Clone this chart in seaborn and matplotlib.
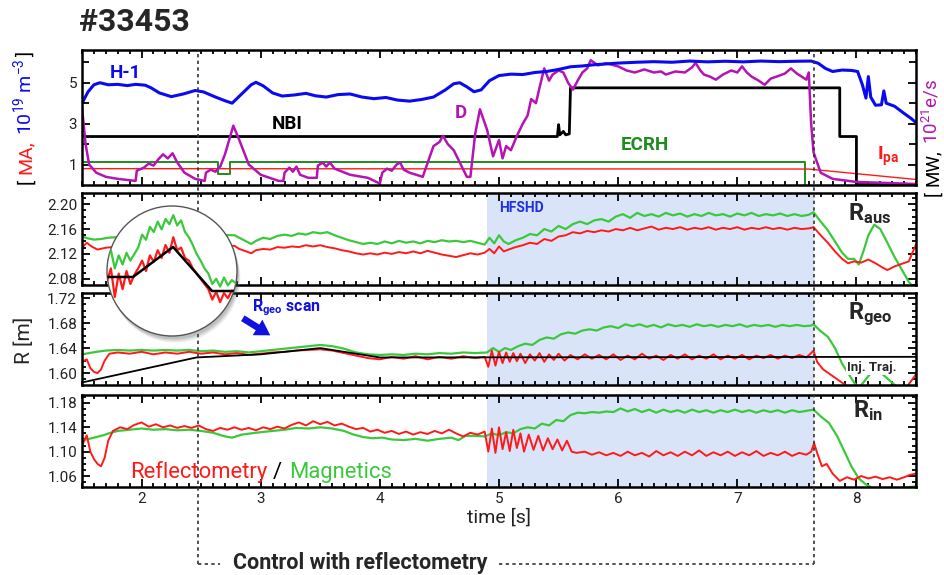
import matplotlib
matplotlib.use("Agg")
import numpy as np
import matplotlib.pyplot as plt
import seaborn as sns
import matplotlib.transforms as mtransforms
from matplotlib.ticker import MultipleLocator, FixedLocator, FormatStrFormatter
from matplotlib.patches import Circle
from matplotlib.lines import Line2D

# ---------------- data (time [s], value) ----------------
shot = "#33453"
h1_density = [(1.50,4.00),(1.55,4.55),(1.60,4.90),(1.65,5.00),(1.72,4.90),(1.80,4.92),(1.88,4.86),(1.95,4.92),
    (2.03,4.88),(2.08,4.75),(2.15,4.50),(2.25,4.32),(2.35,4.45),(2.45,4.62),(2.52,4.55),(2.62,4.30),(2.70,4.12),
    (2.76,4.00),(2.84,4.45),(2.92,4.90),(2.96,5.02),(3.02,4.85),(3.10,4.50),(3.18,4.35),(3.28,4.40),(3.38,4.48),
    (3.46,4.36),(3.55,4.30),(3.65,4.42),(3.75,4.45),(3.85,4.30),(3.95,4.22),(4.05,4.28),(4.15,4.15),(4.25,4.10),
    (4.35,4.18),(4.45,4.30),(4.55,4.65),(4.62,4.95),(4.67,5.00),(4.73,4.80),(4.79,4.56),(4.85,4.65),(4.92,5.10),
    (5.00,5.35),(5.10,5.42),(5.20,5.40),(5.30,5.50),(5.40,5.55),(5.50,5.65),(5.60,5.78),(5.70,5.82),(5.80,5.88),
    (5.90,5.92),(6.00,5.96),(6.15,6.00),(6.30,6.03),(6.45,6.00),(6.60,6.06),(6.75,6.02),(6.90,6.05),(7.05,6.02),
    (7.20,6.06),(7.35,6.03),(7.50,6.05),(7.62,6.06),(7.68,5.95),(7.74,5.70),(7.80,5.55),(7.88,5.62),(7.96,5.60),
    (8.01,5.55),(8.05,4.90),(8.08,4.25),(8.10,5.30),(8.12,4.30),(8.16,3.90),(8.21,3.92),(8.23,4.60),(8.25,4.00),
    (8.32,3.85),(8.40,3.50),(8.46,3.25),(8.50,3.05)]
nbi_power = [(1.50,2.37),(5.49,2.37),(5.50,2.95),(5.51,2.45),(5.54,2.62),(5.56,2.45),(5.59,2.50),(5.60,4.75),
    (7.86,4.75),(7.86,2.37),(8.00,2.37),(8.00,0.02),(8.50,0.02)]
ecrh_power = [(1.50,1.14),(2.64,1.14),(2.64,0.55),(2.74,0.55),(2.74,1.14),(7.57,1.14),(7.57,0.0)]
plasma_current = [(1.50,0.80),(7.60,0.78),(8.50,0.27)]
d_puff = [(1.50,3.80),(1.53,2.00),(1.56,1.00),(1.62,0.60),(1.70,0.40),(1.80,0.30),(1.95,0.20),(1.96,0.70),
    (2.02,0.85),(2.06,1.05),(2.10,0.95),(2.14,1.25),(2.18,1.50),(2.22,1.30),(2.26,1.55),(2.30,1.10),(2.36,0.60),
    (2.45,0.30),(2.53,0.20),(2.54,0.60),(2.58,0.75),(2.62,0.65),(2.66,0.90),(2.70,1.50),(2.74,2.30),(2.77,2.90),
    (2.82,2.20),(2.90,1.00),(3.00,0.50),(3.15,0.20),(3.19,0.20),(3.20,0.60),(3.24,0.85),(3.27,0.65),(3.30,0.90),
    (3.33,0.50),(3.40,0.35),(3.47,0.35),(3.48,0.95),(3.52,1.10),(3.55,0.90),(3.58,1.10),(3.62,0.80),(3.75,0.50),
    (3.90,0.35),(4.00,0.07),(4.02,0.60),(4.06,0.80),(4.10,0.70),(4.14,1.00),(4.17,1.10),(4.20,0.75),(4.25,0.60),
    (4.36,0.40),(4.45,1.90),(4.50,2.10),(4.53,2.40),(4.57,2.00),(4.62,1.70),(4.73,0.40),(4.76,0.40),(4.80,2.50),
    (4.84,3.70),(4.90,2.70),(4.95,1.40),(5.00,2.20),(5.03,1.30),(5.06,1.90),(5.10,1.70),(5.15,2.40),(5.20,3.00),
    (5.24,3.40),(5.27,4.20),(5.31,4.00),(5.35,5.00),(5.38,5.70),(5.42,5.10),(5.45,5.40),(5.50,5.60),(5.54,5.50),
    (5.58,5.00),(5.62,4.66),(5.66,5.10),(5.70,5.50),(5.74,5.70),(5.77,6.10),(5.83,5.85),(5.90,5.95),(6.00,5.80),
    (6.07,5.60),(6.14,5.50),(6.22,5.65),(6.30,5.50),(6.36,5.55),(6.40,5.40),(6.48,5.55),(6.56,5.50),(6.62,5.75),
    (6.65,5.97),(6.69,5.60),(6.72,5.40),(6.77,5.30),(6.82,5.15),(6.88,5.40),(6.95,5.60),(7.00,5.50),(7.04,5.80),
    (7.08,5.50),(7.12,5.30),(7.18,5.10),(7.23,4.90),(7.28,5.20),(7.33,5.30),(7.40,5.45),(7.45,5.70),(7.50,5.45),
    (7.54,5.30),(7.58,5.15),(7.60,5.50),(7.62,3.00),(7.64,1.60),(7.70,0.60),(7.80,0.30),(8.00,0.15),(8.50,0.05)]

raus_magnetics = [(1.50,2.148),(1.55,2.145),(1.60,2.143),(1.66,2.144),(1.72,2.146),(2.00,2.150),(2.40,2.152),
    (2.78,2.150),(2.82,2.146),(2.88,2.140),(2.92,2.136),(2.96,2.141),(3.02,2.146),(3.08,2.144),(3.14,2.149),
    (3.20,2.151),(3.26,2.149),(3.32,2.153),(3.38,2.151),(3.44,2.155),(3.50,2.153),(3.56,2.155),(3.62,2.150),
    (3.68,2.146),(3.74,2.142),(3.80,2.139),(3.86,2.136),(3.92,2.138),(3.98,2.136),(4.04,2.140),(4.10,2.137),
    (4.16,2.141),(4.22,2.138),(4.28,2.140),(4.34,2.137),(4.40,2.141),(4.46,2.139),(4.52,2.142),(4.58,2.140),
    (4.64,2.141),(4.70,2.139),(4.76,2.141),(4.82,2.138),(4.88,2.135),(4.92,2.146),(4.96,2.137),(5.00,2.150),
    (5.04,2.140),(5.08,2.136),(5.14,2.142),(5.20,2.146),(5.26,2.152),(5.32,2.150),(5.38,2.160),(5.44,2.156),
    (5.50,2.165),(5.56,2.160),(5.62,2.168),(5.68,2.172),(5.74,2.168),(5.80,2.174),(5.86,2.176),(5.92,2.172),
    (5.98,2.180),(6.04,2.184),(6.10,2.178),(6.16,2.186),(6.22,2.181),(6.28,2.184),(6.34,2.180),(6.40,2.186),
    (6.46,2.182),(6.52,2.185),(6.58,2.180),(6.64,2.184),(6.70,2.181),(6.76,2.186),(6.82,2.182),(6.88,2.184),
    (6.94,2.180),(7.00,2.185),(7.06,2.182),(7.12,2.186),(7.18,2.181),(7.24,2.184),(7.30,2.182),(7.36,2.185),
    (7.42,2.181),(7.48,2.184),(7.54,2.181),(7.60,2.183),(7.64,2.187),(7.70,2.172),(7.76,2.158),(7.82,2.140),
    (7.88,2.122),(7.93,2.112),(7.98,2.112),(8.02,2.103),(8.06,2.125),(8.10,2.150),(8.15,2.167),(8.20,2.160),
    (8.26,2.138),(8.32,2.115),(8.38,2.095),(8.44,2.075),(8.50,2.062)]
raus_reflectometry = [(1.50,2.130),(1.54,2.138),(1.58,2.132),(1.63,2.127),(1.70,2.130),(2.00,2.135),(2.40,2.135),
    (2.78,2.133),(2.82,2.128),(2.88,2.124),(2.92,2.121),(2.96,2.126),(3.02,2.128),(3.08,2.127),(3.14,2.131),
    (3.20,2.130),(3.26,2.132),(3.32,2.131),(3.38,2.134),(3.44,2.132),(3.50,2.134),(3.56,2.131),(3.62,2.129),
    (3.68,2.126),(3.74,2.124),(3.80,2.121),(3.86,2.119),(3.92,2.121),(3.98,2.119),(4.04,2.122),(4.10,2.120),
    (4.16,2.123),(4.22,2.121),(4.28,2.124),(4.34,2.121),(4.40,2.125),(4.46,2.122),(4.52,2.119),(4.58,2.117),
    (4.64,2.115),(4.70,2.118),(4.76,2.121),(4.82,2.119),(4.88,2.122),(4.92,2.128),(4.96,2.121),(5.00,2.132),
    (5.04,2.124),(5.08,2.127),(5.14,2.131),(5.20,2.134),(5.26,2.138),(5.32,2.136),(5.38,2.144),(5.44,2.141),
    (5.50,2.148),(5.56,2.150),(5.62,2.155),(5.68,2.153),(5.74,2.157),(5.80,2.155),(5.86,2.158),(5.92,2.156),
    (5.98,2.160),(6.04,2.158),(6.10,2.162),(6.16,2.158),(6.22,2.161),(6.28,2.164),(6.34,2.159),(6.40,2.162),
    (6.46,2.160),(6.52,2.163),(6.58,2.159),(6.64,2.162),(6.70,2.160),(6.76,2.163),(6.82,2.159),(6.88,2.162),
    (6.94,2.160),(7.00,2.163),(7.06,2.159),(7.12,2.162),(7.18,2.160),(7.24,2.163),(7.30,2.160),(7.36,2.162),
    (7.42,2.159),(7.48,2.162),(7.54,2.160),(7.60,2.161),(7.64,2.163),(7.70,2.150),(7.76,2.138),(7.82,2.124),
    (7.88,2.112),(7.93,2.105),(7.98,2.108),(8.04,2.106),(8.10,2.111),(8.16,2.105),(8.22,2.098),(8.26,2.094),
    (8.32,2.100),(8.38,2.104),(8.44,2.108),(8.47,2.122),(8.50,2.135)]

rgeo_trajectory = [(1.50,1.585),(2.46,1.625),(3.00,1.630),(3.50,1.640),(4.00,1.625),(8.50,1.626)]
rgeo_magnetics = [(1.50,1.630),(1.56,1.632),(1.62,1.634),(1.70,1.636),(1.80,1.637),(1.90,1.636),(2.00,1.637),
    (2.10,1.636),(2.20,1.637),(2.30,1.636),(2.40,1.637),(2.50,1.635),(2.60,1.636),(2.70,1.634),(2.80,1.635),
    (2.90,1.633),(3.00,1.635),(3.10,1.637),(3.20,1.639),(3.30,1.641),(3.40,1.643),(3.50,1.645),(3.60,1.643),
    (3.70,1.639),(3.80,1.633),(3.90,1.630),(4.00,1.629),(4.10,1.630),(4.20,1.629),(4.30,1.631),(4.40,1.630),
    (4.50,1.632),(4.60,1.631),(4.70,1.633),(4.80,1.632),(4.90,1.633),(4.95,1.640),(5.00,1.634),(5.05,1.640),
    (5.10,1.637),(5.16,1.643),(5.22,1.647),(5.28,1.645),(5.34,1.653),(5.40,1.657),(5.46,1.655),(5.52,1.662),
    (5.58,1.665),(5.64,1.663),(5.70,1.668),(5.76,1.670),(5.82,1.668),(5.88,1.673),(5.94,1.675),(6.00,1.672),
    (6.06,1.678),(6.12,1.675),(6.18,1.678),(6.24,1.674),(6.30,1.677),(6.36,1.673),(6.42,1.678),(6.48,1.675),
    (6.54,1.677),(6.60,1.674),(6.66,1.678),(6.72,1.675),(6.78,1.677),(6.84,1.674),(6.90,1.677),(6.96,1.675),
    (7.02,1.678),(7.08,1.674),(7.14,1.677),(7.20,1.675),(7.26,1.677),(7.32,1.674),(7.38,1.677),(7.44,1.675),
    (7.50,1.677),(7.56,1.675),(7.62,1.676),(7.64,1.678),(7.70,1.667),(7.76,1.658),(7.82,1.640),(7.88,1.615),
    (7.93,1.600),(7.98,1.585),(8.02,1.576),(8.07,1.588),(8.12,1.600),(8.16,1.603),(8.22,1.598),(8.28,1.588),
    (8.34,1.578),(8.40,1.570),(8.50,1.565)]
rgeo_reflectometry = [(1.50,1.618),(1.54,1.622),(1.57,1.608),(1.60,1.602),(1.63,1.600),(1.66,1.606),(1.69,1.620),
    (1.73,1.631),(1.80,1.633),(1.90,1.631),(2.00,1.634),(2.10,1.630),(2.20,1.633),(2.30,1.631),(2.40,1.634),
    (2.50,1.631),(2.60,1.633),(2.70,1.630),(2.80,1.632),(2.90,1.629),(3.00,1.631),(3.10,1.633),(3.20,1.634),
    (3.30,1.636),(3.40,1.637),(3.50,1.638),(3.60,1.636),(3.70,1.632),(3.80,1.628),(3.90,1.624),(4.00,1.622),
    (4.10,1.626),(4.20,1.623),(4.30,1.627),(4.40,1.622),(4.50,1.626),(4.60,1.623),(4.70,1.627),(4.80,1.624),
    (4.88,1.626),(4.91,1.610),(4.94,1.636),(4.97,1.612),(5.00,1.634),(5.03,1.616),(5.06,1.633),(5.09,1.618),
    (5.12,1.632),(5.15,1.619),(5.18,1.631),(5.22,1.616),(5.26,1.630),(5.30,1.620),(5.34,1.632),(5.38,1.618),
    (5.42,1.630),(5.46,1.621),(5.50,1.631),(5.55,1.620),(5.60,1.629),(5.66,1.622),(5.72,1.630),(5.78,1.623),
    (5.84,1.629),(5.90,1.622),(5.96,1.630),(6.02,1.621),(6.08,1.628),(6.14,1.622),(6.20,1.631),(6.26,1.623),
    (6.32,1.628),(6.38,1.621),(6.44,1.629),(6.50,1.623),(6.56,1.630),(6.62,1.622),(6.68,1.628),(6.74,1.623),
    (6.80,1.630),(6.86,1.622),(6.92,1.628),(6.98,1.623),(7.04,1.629),(7.10,1.622),(7.16,1.628),(7.22,1.624),
    (7.28,1.629),(7.34,1.623),(7.40,1.628),(7.46,1.624),(7.52,1.629),(7.58,1.625),(7.62,1.632),(7.64,1.636),
    (7.67,1.618),(7.72,1.606),(7.78,1.598),(7.84,1.590),(7.90,1.582),(7.95,1.576),(8.00,1.572),(8.40,1.572),
    (8.45,1.585),(8.50,1.598)]

rin_reflectometry = [(1.50,1.110),(1.54,1.127),(1.57,1.100),(1.60,1.088),(1.63,1.080),(1.66,1.076),(1.69,1.090),
    (1.72,1.118),(1.76,1.134),(1.82,1.140),(1.88,1.137),(1.94,1.144),(2.00,1.148),(2.06,1.141),(2.12,1.145),
    (2.18,1.140),(2.24,1.143),(2.30,1.139),(2.36,1.142),(2.42,1.139),(2.48,1.143),(2.54,1.137),(2.60,1.134),
    (2.66,1.139),(2.72,1.136),(2.78,1.140),(2.84,1.136),(2.90,1.139),(2.96,1.135),(3.02,1.140),(3.08,1.137),
    (3.14,1.141),(3.20,1.138),(3.26,1.144),(3.32,1.148),(3.38,1.143),(3.44,1.150),(3.50,1.145),(3.56,1.149),
    (3.62,1.143),(3.68,1.146),(3.74,1.141),(3.80,1.137),(3.86,1.139),(3.92,1.133),(3.98,1.136),(4.04,1.131),
    (4.10,1.134),(4.16,1.129),(4.22,1.133),(4.28,1.128),(4.34,1.132),(4.40,1.129),(4.46,1.134),(4.52,1.130),
    (4.58,1.136),(4.64,1.130),(4.70,1.125),(4.76,1.131),(4.82,1.128),(4.88,1.133),(4.91,1.100),(4.94,1.138),
    (4.97,1.098),(5.00,1.140),(5.03,1.104),(5.06,1.132),(5.09,1.101),(5.12,1.136),(5.15,1.106),(5.18,1.130),
    (5.21,1.100),(5.25,1.128),(5.29,1.103),(5.33,1.126),(5.37,1.102),(5.41,1.122),(5.45,1.104),(5.49,1.120),
    (5.53,1.102),(5.57,1.118),(5.61,1.100),(5.65,1.098),(5.72,1.100),(5.78,1.095),(5.84,1.099),(5.90,1.094),
    (5.96,1.098),(6.02,1.093),(6.08,1.100),(6.14,1.094),(6.20,1.098),(6.26,1.092),(6.32,1.101),(6.38,1.094),
    (6.44,1.099),(6.50,1.093),(6.56,1.100),(6.62,1.094),(6.68,1.102),(6.74,1.093),(6.80,1.099),(6.86,1.094),
    (6.92,1.100),(6.98,1.093),(7.04,1.099),(7.10,1.094),(7.16,1.101),(7.22,1.093),(7.28,1.098),(7.34,1.094),
    (7.40,1.100),(7.46,1.093),(7.52,1.098),(7.58,1.095),(7.62,1.100),(7.645,1.114),(7.67,1.098),(7.71,1.076),
    (7.75,1.080),(7.80,1.064),(7.86,1.052),(7.92,1.058),(7.98,1.054),(8.04,1.060),(8.10,1.056),(8.16,1.059),
    (8.22,1.055),(8.28,1.058),(8.34,1.054),(8.40,1.058),(8.45,1.062),(8.50,1.064)]
rin_magnetics = [(1.50,1.119),(1.56,1.121),(1.62,1.124),(1.68,1.127),(1.74,1.131),(1.80,1.134),(1.90,1.136),
    (2.00,1.138),(2.10,1.136),(2.20,1.137),(2.30,1.135),(2.40,1.136),(2.50,1.134),(2.60,1.131),(2.70,1.125),
    (2.76,1.123),(2.84,1.128),(2.92,1.130),(3.00,1.132),(3.10,1.134),(3.20,1.136),(3.30,1.139),(3.40,1.138),
    (3.50,1.140),(3.60,1.138),(3.70,1.134),(3.78,1.128),(3.86,1.124),(3.94,1.122),(4.02,1.123),(4.10,1.120),
    (4.20,1.119),(4.30,1.121),(4.40,1.118),(4.50,1.121),(4.60,1.123),(4.66,1.119),(4.72,1.126),(4.80,1.126),
    (4.88,1.125),(4.94,1.130),(5.00,1.127),(5.06,1.132),(5.12,1.130),(5.18,1.137),(5.24,1.140),(5.30,1.138),
    (5.36,1.146),(5.42,1.143),(5.48,1.152),(5.54,1.150),(5.60,1.160),(5.66,1.164),(5.72,1.163),(5.78,1.165),
    (5.84,1.164),(5.90,1.166),(5.96,1.165),(6.02,1.171),(6.08,1.166),(6.14,1.170),(6.20,1.165),(6.26,1.169),
    (6.32,1.164),(6.38,1.169),(6.44,1.165),(6.50,1.168),(6.56,1.164),(6.62,1.169),(6.68,1.165),(6.74,1.168),
    (6.80,1.164),(6.86,1.168),(6.92,1.165),(6.98,1.169),(7.04,1.165),(7.10,1.168),(7.16,1.164),(7.22,1.168),
    (7.28,1.165),(7.34,1.168),(7.40,1.164),(7.46,1.168),(7.52,1.165),(7.58,1.167),(7.64,1.169),(7.70,1.158),
    (7.77,1.147),(7.84,1.125),(7.90,1.100),(7.96,1.075),(8.02,1.056),(8.08,1.046),(8.14,1.040),(8.30,1.039),
    (8.50,1.043)]

# zoomed inset (normalised coordinates inside the magnifier)
inset_x = [0.00,0.03,0.06,0.09,0.12,0.15,0.18,0.21,0.24,0.27,0.30,0.33,0.36,0.39,0.42,0.45,0.48,
           0.51,0.54,0.57,0.60,0.63,0.66,0.69,0.72,0.75,0.78,0.81,0.84,0.87,0.90,0.93,0.96,1.00]
inset_magnetics = [0.60,0.66,0.52,0.62,0.55,0.64,0.58,0.63,0.68,0.78,0.74,0.84,0.80,0.88,0.82,0.90,0.86,
                   0.93,0.85,0.89,0.80,0.76,0.70,0.63,0.58,0.52,0.48,0.40,0.44,0.38,0.45,0.39,0.43,0.40]
inset_reflectometry = [0.42,0.52,0.30,0.48,0.36,0.50,0.40,0.47,0.52,0.58,0.50,0.62,0.57,0.66,0.60,0.70,0.64,
                       0.76,0.66,0.68,0.60,0.58,0.52,0.48,0.44,0.40,0.36,0.28,0.34,0.26,0.33,0.29,0.35,0.33]
inset_trajectory = [(0.00,0.454),(0.20,0.454),(0.508,0.685),(0.808,0.346),(1.00,0.346)]

control_window = [2.47, 7.64]
hfshd_window = [4.90, 7.64]

# ---------------- styling ----------------
sns.set_theme(style="ticks")
plt.rcParams["font.family"] = ["Roboto", "DejaVu Sans"]
plt.rcParams["mathtext.fontset"] = "custom"
plt.rcParams["mathtext.rm"] = "Roboto"
plt.rcParams["mathtext.bf"] = "Roboto:bold"
plt.rcParams["mathtext.it"] = "Roboto:italic"

BLUE = "#0A0AF2"; MAG = "#B414B4"; ECRH_G = "#1E8C1E"; RED = "#FF1A1A"; GRN = "#3CC83C"
SHADE = "#DAE4F9"

W, H = 945, 575
fig = plt.figure(figsize=(9.45, 5.75), dpi=100)
L0, WD = 82 / W, 834 / W
def pos(top, bot):
    return [L0, 1 - bot / H, WD, (bot - top) / H]
ax1 = fig.add_axes(pos(50, 185))
ax2 = fig.add_axes(pos(193, 285))
ax3 = fig.add_axes(pos(293, 385))
ax4 = fig.add_axes(pos(395, 487))

def draw(ax, data, color, lw, z=2):
    a = np.array(data, dtype=float)
    sns.lineplot(x=a[:, 0], y=a[:, 1], ax=ax, color=color, lw=lw, estimator=None,
                 sort=False, legend=False, zorder=z)

for ax in (ax1, ax2, ax3, ax4):
    ax.set_xlim(1.5, 8.5)
    for s in ax.spines.values():
        s.set_linewidth(1.8); s.set_color("black")
    ax.tick_params(which="both", direction="in", top=True, right=True, width=1.3,
                   color="black", labelcolor="#222", labelsize=11)
    ax.tick_params(which="major", length=6)
    ax.tick_params(which="minor", length=3)
    ax.xaxis.set_major_locator(MultipleLocator(1))
    ax.xaxis.set_minor_locator(MultipleLocator(0.1))
    if ax is not ax4:
        ax.tick_params(labelbottom=False)
for ax in (ax2, ax3, ax4):
    ax.axvspan(hfshd_window[0], hfshd_window[1], color=SHADE, lw=0, zorder=0)

# panel 1
draw(ax1, ecrh_power, ECRH_G, 1.4)
draw(ax1, plasma_current, RED, 1.0)
draw(ax1, nbi_power, "black", 2.0)
draw(ax1, d_puff, MAG, 1.8)
draw(ax1, h1_density, BLUE, 2.2)
ax1.set_ylim(0, 6.6)
ax1.yaxis.set_major_locator(FixedLocator([1, 3, 5]))
ax1.yaxis.set_minor_locator(FixedLocator([2, 4, 6]))
ax1.yaxis.set_major_formatter(FormatStrFormatter("%d"))
ax1.tick_params(axis="y", which="minor", length=5)
ax1.text(1.73, 5.50, "H-1", color=BLUE, fontsize=13.5, fontweight="bold", va="center")
ax1.text(3.09, 3.00, "NBI", color="black", fontsize=13.5, fontweight="bold", va="center")
ax1.text(4.63, 3.50, "D", color=MAG, fontsize=13.5, fontweight="bold", va="center")
ax1.text(6.02, 1.95, "ECRH", color=ECRH_G, fontsize=13.5, fontweight="bold", va="center")
ax1.text(8.17, 1.40, r"$\mathbf{I}_{\mathbf{pa}}$", color=RED, fontsize=14, va="center")

# panel 2
draw(ax2, raus_magnetics, GRN, 1.6)
draw(ax2, raus_reflectometry, RED, 1.4)
ax2.set_ylim(2.070, 2.218)
ax2.yaxis.set_major_locator(FixedLocator([2.08, 2.12, 2.16, 2.20]))
ax2.yaxis.set_minor_locator(MultipleLocator(0.01))
ax2.yaxis.set_major_formatter(FormatStrFormatter("%.2f"))
ax2.text(5.0, 2.194, "HFSHD", color="#2030E0", fontsize=10, fontweight="bold", va="center")
ax2.text(0.918, 0.78, r"$\mathbf{R}_{\mathbf{aus}}$", transform=ax2.transAxes, fontsize=17, va="center")

# panel 3
draw(ax3, rgeo_magnetics, GRN, 1.6)
draw(ax3, rgeo_reflectometry, RED, 1.4)
draw(ax3, rgeo_trajectory, "black", 1.3, z=3)
ax3.set_ylim(1.581, 1.728)
ax3.yaxis.set_major_locator(FixedLocator([1.60, 1.64, 1.68, 1.72]))
ax3.yaxis.set_minor_locator(MultipleLocator(0.01))
ax3.yaxis.set_major_formatter(FormatStrFormatter("%.2f"))
ax3.text(0.918, 0.77, r"$\mathbf{R}_{\mathbf{geo}}$", transform=ax3.transAxes, fontsize=17, va="center")
ax3.text(0.917, 0.185, "Inj. Traj.", transform=ax3.transAxes, fontsize=9.5, fontweight="bold", va="center",
         bbox=dict(facecolor="white", edgecolor="none", pad=0.5), zorder=4)
ax3.text(2.93, 1.705, r"$\mathbf{R}_{\mathbf{geo}}$ scan", color="#1010E0", fontsize=11.5,
         fontweight="bold", va="center")
ax3.annotate("", xy=(3.10, 1.658), xytext=(2.83, 1.690),
             arrowprops=dict(arrowstyle="simple,head_width=1.1,head_length=0.9,tail_width=0.4",
                             color="#1010E0", lw=0, mutation_scale=12))

# panel 4
draw(ax4, rin_magnetics, GRN, 1.6)
draw(ax4, rin_reflectometry, RED, 1.4)
ax4.set_ylim(1.042, 1.193)
ax4.yaxis.set_major_locator(FixedLocator([1.06, 1.10, 1.14, 1.18]))
ax4.yaxis.set_minor_locator(MultipleLocator(0.01))
ax4.yaxis.set_major_formatter(FormatStrFormatter("%.2f"))
ax4.text(0.925, 0.83, r"$\mathbf{R}_{\mathbf{in}}$", transform=ax4.transAxes, fontsize=17, va="center")
ax4.set_xlabel("time [s]", fontsize=14, labelpad=2, color="#222")

# control window dotted bracket
trans = mtransforms.blended_transform_factory(ax4.transData, fig.transFigure)
ybr = 1 - 564 / H
for tv in control_window:
    fig.add_artist(Line2D([tv, tv], [ybr, 1 - 50 / H], transform=trans, ls=(0, (2, 2)), lw=1.2,
                          color="#333333", zorder=4))
fig.add_artist(Line2D([control_window[0], 2.66], [ybr, ybr], transform=trans, ls=(0, (2, 2)),
                      lw=1.2, color="#333333", zorder=4))
fig.add_artist(Line2D([5.00, control_window[1]], [ybr, ybr], transform=trans, ls=(0, (2, 2)),
                      lw=1.2, color="#333333", zorder=4))
fig.text(360 / W, ybr + 0.001, "Control with reflectometry", fontsize=15.5, fontweight="bold",
         ha="center", va="center")

# title / labels
fig.text(79 / W, 1 - 22 / H, shot, fontsize=23, fontweight="bold", ha="left", va="center")
fig.text(24 / W, 1 - 340 / H, "R [m]", fontsize=15, rotation=90, ha="center", va="center")

renderer = fig.canvas.get_renderer()
def multicolor(x_px, y_px, pieces, rotation=0, size=14):
    for s, c, gap in pieces:
        t = fig.text(x_px / W, y_px / H, s, color=c, fontsize=size, rotation=rotation,
                     rotation_mode="anchor", ha="left", va="baseline")
        bb = t.get_window_extent(renderer)
        if rotation == 0:
            x_px += bb.width + gap
        else:
            y_px += bb.height + gap

multicolor(31, H - 184, [("[", "black", 5), ("MA,", RED, 5),
                         (r"10$^{19}$ m$^{-3}$", BLUE, 3), ("]", "black", 0)], rotation=90, size=14)
multicolor(938, H - 196, [("[", "black", 5), ("MW,", "black", 5),
                          (r"10$^{21}$e/s", MAG, 0)], rotation=90, size=13.5)
multicolor(130, H - 478, [("Reflectometry", RED, 6), ("/", "black", 7), ("Magnetics", GRN, 0)],
           rotation=0, size=15.8)

# magnifier inset
ax_in = fig.add_axes([107 / W, 1 - 336 / H, 130 / W, 130 / H], zorder=6)
ax_in.set_xlim(0, 1); ax_in.set_ylim(0, 1); ax_in.axis("off")
for dx, a in [(0.05, 0.10), (0.038, 0.14), (0.026, 0.18)]:
    ax_in.add_patch(Circle((0.5 + 0.5 * dx, 0.5 - dx), 0.5, transform=ax_in.transAxes,
                           facecolor="#555555", edgecolor="none", alpha=a, clip_on=False, zorder=0))
circ = Circle((0.5, 0.5), 0.5, transform=ax_in.transAxes, facecolor="white", edgecolor="#555555",
              lw=1.0, clip_on=False, zorder=1)
ax_in.add_patch(circ)
sns.lineplot(x=inset_x, y=inset_magnetics, ax=ax_in, color=GRN, lw=1.6, estimator=None, sort=False,
             legend=False, zorder=2)
sns.lineplot(x=inset_x, y=inset_reflectometry, ax=ax_in, color=RED, lw=1.6, estimator=None, sort=False,
             legend=False, zorder=3)
ti = np.array(inset_trajectory)
sns.lineplot(x=ti[:, 0], y=ti[:, 1], ax=ax_in, color="black", lw=1.8, estimator=None, sort=False,
             legend=False, zorder=4)
for ln in ax_in.lines:
    ln.set_clip_path(circ)

fig.savefig("out.png", dpi=100)
